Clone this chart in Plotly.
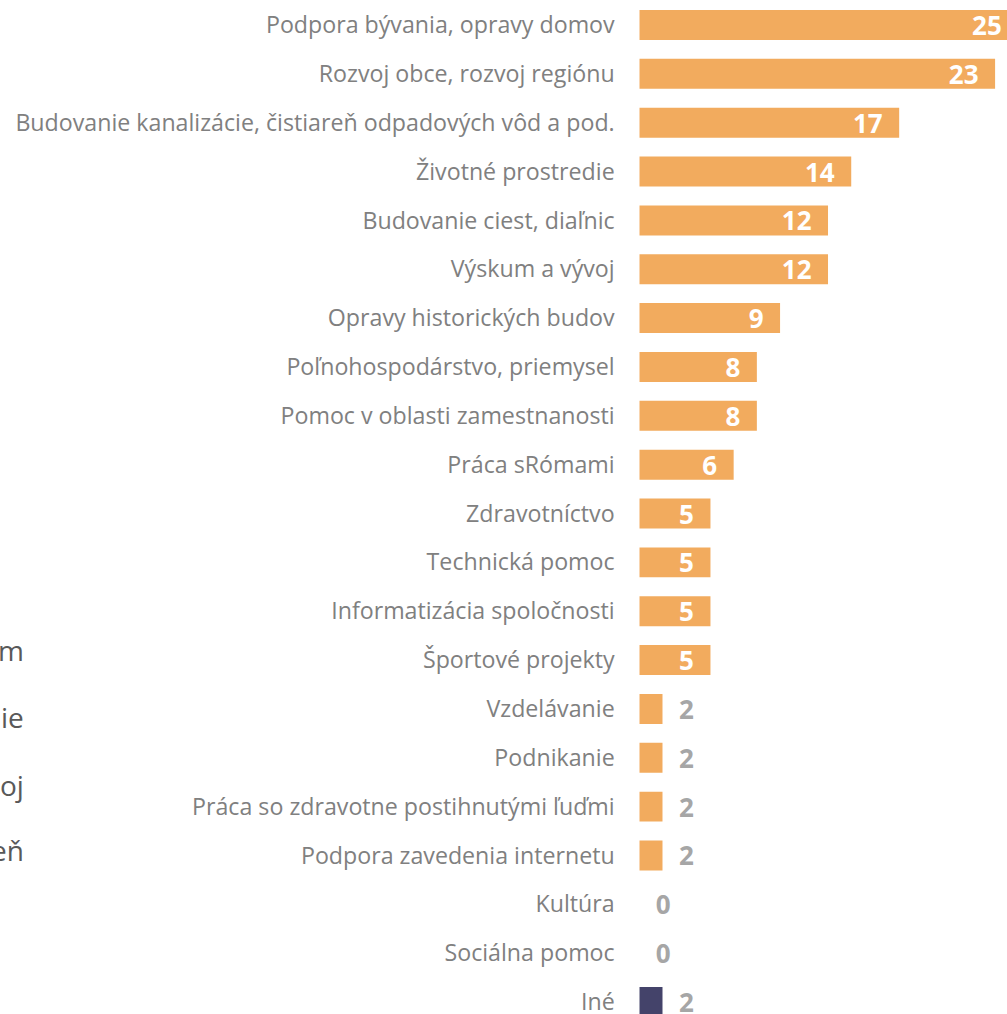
import plotly.graph_objects as go

categories = [
    "Podpora bývania, opravy domov",
    "Rozvoj obce, rozvoj regiónu",
    "Budovanie kanalizácie, čistiareň odpadových vôd a pod.",
    "Životné prostredie",
    "Budovanie ciest, diaľnic",
    "Výskum a vývoj",
    "Opravy historických budov",
    "Poľnohospodárstvo, priemysel",
    "Pomoc v oblasti zamestnanosti",
    "Práca sRómami",
    "Zdravotníctvo",
    "Technická pomoc",
    "Informatizácia spoločnosti",
    "Športové projekty",
    "Vzdelávanie",
    "Podnikanie",
    "Práca so zdravotne postihnutými ľuďmi",
    "Podpora zavedenia internetu",
    "Kultúra",
    "Sociálna pomoc",
    "Iné",
]
# bar lengths (estimated) and the rounded labels shown on the chart
values = [24.5, 23.0, 16.8, 13.7, 12.2, 12.2, 9.1, 7.6, 7.6, 6.1,
          4.6, 4.6, 4.6, 4.6, 1.5, 1.5, 1.5, 1.5, 0, 0, 1.5]
labels = [25, 23, 17, 14, 12, 12, 9, 8, 8, 6,
          5, 5, 5, 5, 2, 2, 2, 2, 0, 0, 2]
# cut-off text visible at the left edge
side_fragments = ["m", "ie", "oj", "eň"]

ORANGE = "#f2ab5e"
NAVY = "#44436a"
FONT = "Open Sans"
PAD = "\u00a0\u00a0"

colors = [NAVY if c == "Iné" else ORANGE for c in categories]
inside = [v >= 5 for v in labels]

fig = go.Figure(go.Bar(
    x=values,
    y=categories,
    orientation="h",
    width=0.614,
    marker={"color": colors, "line": {"width": 0}},
    text=[f"{v}{PAD}" if ins else f"{PAD}{v}" for v, ins in zip(labels, inside)],
    textposition=["inside" if ins else "outside" for ins in inside],
    textangle=0,
    insidetextanchor="end",
    constraintext="none",
    insidetextfont={"family": FONT, "size": 26, "color": "#ffffff", "weight": "bold"},
    outsidetextfont={"family": FONT, "size": 26, "color": "#a6a6a6", "weight": "bold"},
    cliponaxis=True,
    hoverinfo="skip",
))

frag_y = [0.359, 0.293, 0.226, 0.162]
for txt, yy in zip(side_fragments, frag_y):
    fig.add_annotation(
        text=txt, xref="paper", yref="paper", x=0.026, y=yy,
        xanchor="right", yanchor="middle", showarrow=False,
        font={"family": FONT, "size": 28, "color": "#595959"},
    )

fig.update_layout(
    width=1007,
    height=1014,
    margin=dict(l=0, r=0, t=0, b=0),
    paper_bgcolor="#ffffff",
    plot_bgcolor="#ffffff",
    showlegend=False,
    xaxis={
        "domain": [639.3 / 1007, 1],
        "range": [0, 23.77],
        "visible": False,
    },
    yaxis={
        "range": [20.245, -0.512],
        "showgrid": False,
        "zeroline": False,
        "showline": False,
        "ticks": "outside",
        "ticklen": 19,
        "tickcolor": "rgba(0,0,0,0)",
        "tickfont": {"family": FONT, "size": 23.2, "color": "#808080"},
        "automargin": False,
    },
)

fig.write_html(
    "out.html",
    config={"displayModeBar": False},
    post_script="document.body.style.margin='0';",
)
